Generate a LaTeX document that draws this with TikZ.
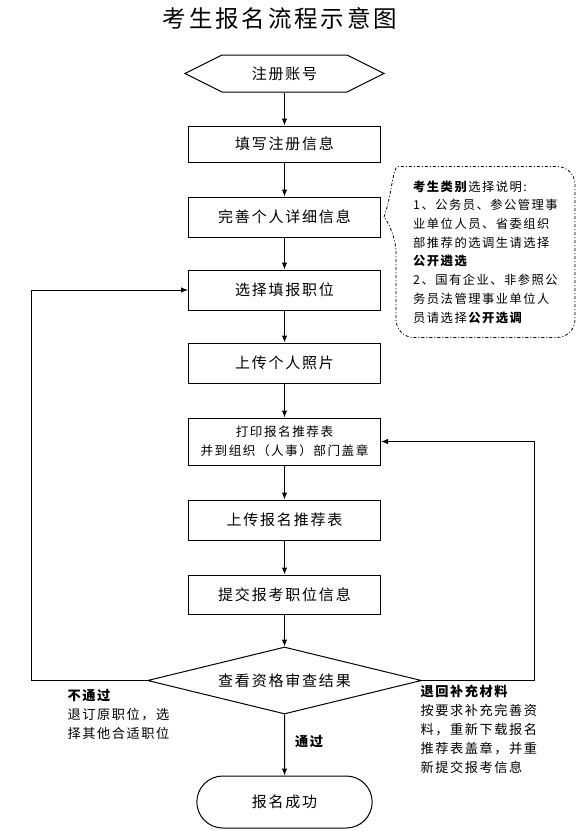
\documentclass[tikz,border=0pt]{standalone}
\usepackage{fontspec}
\setmainfont{Noto Sans CJK SC}[LetterSpace=12]
\usetikzlibrary{positioning, shapes.geometric, shapes.misc, shapes.symbols, arrows.meta}
\tikzset{%
	stepbox/.style={draw, rectangle, minimum width=192pt, minimum height=40pt,%
		inner sep=0pt, font=\fontsize{15}{19}\selectfont},
	startbox/.style={draw, signal, signal to=west and east, signal pointer angle=53,%
		minimum width=199pt, minimum height=37pt, inner sep=0pt, font=\fontsize{15}{19}\selectfont},
	checkbox/.style={draw, diamond, aspect=4.1, minimum width=274pt, minimum height=67pt,%
		inner sep=0pt, font=\fontsize{15}{19}\selectfont},
	endbox/.style={draw, rounded rectangle, minimum width=182pt, minimum height=52pt,%
		font=\fontsize{15}{19}\selectfont},
	notebox/.style={minimum width=178pt, minimum height=170pt, inner sep=0pt, align=left,%
		font=\fontsize{12.3}{18.7}\selectfont},
	bubble/.style={draw, dash dot, line width=0.8pt, rounded corners=18pt},
	remark/.style={inner sep=0pt, align=left, font=\fontsize{13.2}{19}\selectfont},
	flow/.style={-{Latex[length=7pt,width=5.5pt]}, line width=1pt}
}

\begin{document}
\begin{tikzpicture}[x=1pt, y=-1pt, node distance=34pt, line width=1pt]
	\useasboundingbox (0,0) rectangle (588,831);
	\node [font=\fontsize{23.5}{26}\selectfont] (title) at (280,18) {考生报名流程示意图};
	\node [startbox] (account) at (284.5,73.5) {注册账号};
	\node [stepbox, minimum height=36pt, below=33pt of account] (info) {填写注册信息};
	\node [stepbox, below=of info] (detail) {完善个人详细信息};
	\node [stepbox, below=32pt of detail] (select) {选择填报职位};
	\node [stepbox, below=32pt of select] (photo) {上传个人照片};
	\node [stepbox, below=of photo, minimum height=47pt, align=center,%
		font=\fontsize{12.6}{19}\selectfont] (print) {打印报名推荐表\\并到组织（人事）部门盖章};
	\node [stepbox, below=of print] (upload) {上传报名推荐表};
	\node [stepbox, minimum height=39pt, below=of upload] (submit) {提交报考职位信息};
	\node [checkbox, below=32pt of submit] (check) {查看资格审查结果};
	\node [endbox, below=61pt of check] (done) {报名成功};

	%note
	\node [notebox, anchor=west] (note) at ([xshift=15pt,yshift=-35pt]detail.east) {\textbf{考生类别}选择说明:\\
		1、公务员、参公管理事\\
		业单位人员、省委组织\\
		部推荐的选调生请选择\\
		\textbf{公开遴选}\\
		2、国有企业、非参照公\\
		务员法管理事业单位人\\
		员请选择\textbf{公开选调}};
	\coordinate (tip) at ([xshift=3pt]detail.east);
	\draw [bubble] (tip) to[out=70, in=180] ([xshift=20pt]note.north west) -- (note.north east)
		-- (note.south east) -- (note.south west) -- ([yshift=-68pt]note.north west) [sharp corners] -- cycle;

	%main flow
	\foreach \a/\b in {account/info, info/detail, detail/select, select/photo, photo/print,
		print/upload, upload/submit, submit/check}
		\draw [flow] (\a) -- (\b);
	\draw [flow] (check) -- node[remark, right=10pt, pos=0.45]{\textbf{通过}} (done);

	%loops
	\draw [flow] (check.west) -- ++(-116,0) |- (select.west);
	\draw [flow] (check.east) -- ++(112,0) |- (print.east);

	\node [remark, anchor=north west] (fail) at ([xshift=-80pt,yshift=-8pt]check.west)
		{\textbf{不通过}\\退订原职位，选\\择其他合适职位};
	\node [remark, anchor=north west] (resubmit) at ([xshift=-2pt,yshift=-4pt]check.east)
		{\textbf{退回补充材料}\\按要求补充完善资\\料，重新下载报名\\推荐表盖章，并重\\新提交报考信息};
\end{tikzpicture}
\end{document}
